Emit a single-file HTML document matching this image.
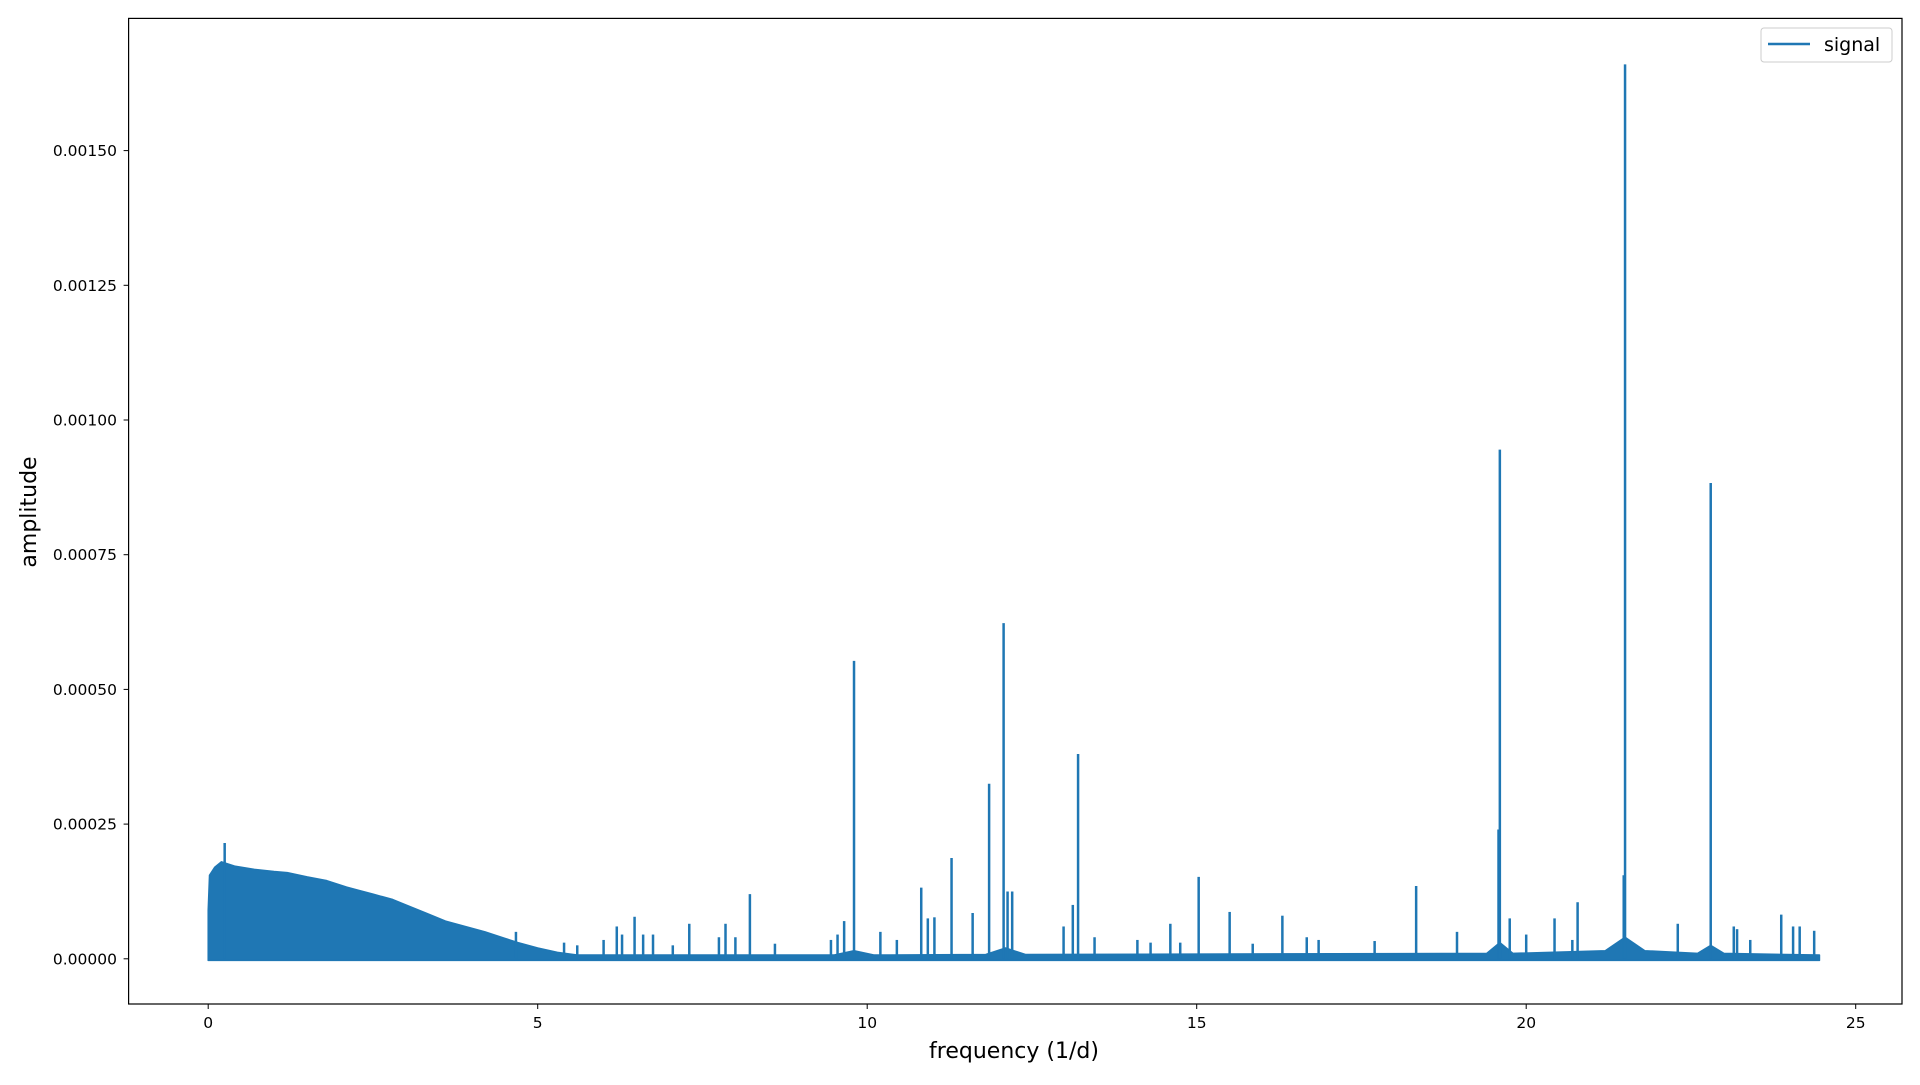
<!DOCTYPE html>
<html><head><meta charset="utf-8"><style>
html,body{margin:0;padding:0;background:#fff;}
svg text{font-family:"DejaVu Sans","Liberation Sans",sans-serif;fill:#000;}
</style></head><body>
<svg width="1920" height="1080" viewBox="0 0 1920 1080">
<g id="plot"></g>
<rect x="128.6" y="18.4" width="1773.4" height="985.6" fill="none" stroke="#000" stroke-width="1.2"/>
<g id="xticks"></g>
<g id="yticks"></g>
<text x="1014" y="1058" font-size="22" text-anchor="middle">frequency (1/d)</text>
<text transform="translate(36,512) rotate(-90)" font-size="22" text-anchor="middle">amplitude</text>
<g>
<rect x="1761" y="28" width="131" height="34" rx="3" fill="#fff" stroke="#ccc" stroke-width="1"/>
<line x1="1768" y1="44" x2="1810" y2="44" stroke="#1f77b4" stroke-width="2.5"/>
<text x="1824" y="51" font-size="19">signal</text>
</g>
</svg>
<script>
const xTicks=[0,5,10,15,20,25];
const yTicks=[0,0.00025,0.0005,0.00075,0.001,0.00125,0.0015];
const yTickLabels=["0.00000","0.00025","0.00050","0.00075","0.00100","0.00125","0.00150"];
const envFreq=[0,0.02,0.1,0.2,0.4,0.7,1.0,1.2,1.5,1.8,2.1,2.5,2.8,3.0,3.3,3.6,3.9,4.2,4.5,4.7,5.0,5.3,5.6,9.5,9.8,10.1,11.8,12.1,12.4,19.4,19.6,19.8,21.2,21.5,21.8,22.6,22.8,23.0,24.45];
const envAmp=[0.00009,0.000155,0.00017,0.00018,0.000172,0.000166,0.000162,0.00016,0.000152,0.000145,0.000133,0.00012,0.00011,0.0001,0.000085,0.00007,0.00006,0.00005,0.000038,0.00003,0.00002,0.000012,0.000007,0.000007,0.000015,0.000007,0.000008,0.00002,0.000008,0.00001,0.00003,0.00001,0.000015,0.00004,0.000015,0.00001,0.000025,0.00001,0.000007];
const peakFreq=[0.25,4.67,5.4,5.6,6.0,6.2,6.28,6.47,6.6,6.75,7.05,7.3,7.75,7.85,8.0,8.22,8.6,9.45,9.55,9.65,9.8,10.2,10.45,10.82,10.92,11.02,11.28,11.6,11.85,12.07,12.13,12.2,12.98,13.12,13.2,13.45,14.1,14.3,14.6,14.75,15.03,15.5,15.85,16.3,16.67,16.85,17.7,18.33,18.95,19.58,19.6,19.75,20.0,20.43,20.7,20.78,21.48,21.5,22.3,22.8,23.15,23.2,23.4,23.87,24.05,24.15,24.37];
const peakAmp=[0.000215,0.00005,0.00003,0.000025,0.000035,0.00006,0.000045,0.000078,0.000045,0.000045,0.000025,0.000065,0.00004,0.000065,0.00004,0.00012,0.000028,0.000035,0.000045,0.00007,0.000553,0.00005,0.000035,0.000132,0.000075,0.000077,0.000187,0.000085,0.000325,0.000623,0.000125,0.000125,0.00006,0.0001,0.00038,0.00004,0.000035,0.00003,0.000065,0.00003,0.000152,0.000087,0.000028,0.00008,0.00004,0.000035,0.000033,0.000135,0.00005,0.00024,0.000945,0.000075,0.000045,0.000075,0.000035,0.000105,0.000155,0.00166,0.000065,0.000883,0.00006,0.000055,0.000035,0.000082,0.00006,0.00006,0.000052];
const X=f=>208.2+f*65.9;
const Y=a=>958.8-a*538800;
const NS="http://www.w3.org/2000/svg";
const plot=document.getElementById('plot');
function mk(t,attrs,parent){const e=document.createElementNS(NS,t);for(const k in attrs)e.setAttribute(k,attrs[k]);parent.appendChild(e);return e;}
let pts=envFreq.map((f,i)=>X(f)+","+Y(envAmp[i])).join(" ");
pts+=" "+X(envFreq[envFreq.length-1])+","+Y(-0.000003)+" "+X(0)+","+Y(-0.000003);
const env=mk('polygon',{points:pts,fill:'#1f77b4',stroke:'#1f77b4','stroke-width':'1.5','stroke-linejoin':'round'},plot);


peakFreq.forEach((f,i)=>{
 const l=mk('line',{x1:X(f),x2:X(f),y1:Y(0),y2:Y(peakAmp[i]),stroke:'#1f77b4','stroke-width':'2.5'},plot);
 
 
});
const xg=document.getElementById('xticks');
xTicks.forEach(t=>{
 const tl=mk('line',{x1:X(t),x2:X(t),y1:1004,y2:1009,stroke:'#000','stroke-width':'1'},xg);
 
 
 const tx=mk('text',{x:X(t),y:1028,'font-size':'15.5','text-anchor':'middle'},xg);
 tx.textContent=t;
 
 
});
const yg=document.getElementById('yticks');
yTicks.forEach((t,i)=>{
 const tl=mk('line',{x1:123.6,x2:128.6,y1:Y(t),y2:Y(t),stroke:'#000','stroke-width':'1'},yg);
 
 
 const tx=mk('text',{x:117,y:Y(t)+5.5,'font-size':'15.5','text-anchor':'end'},yg);
 tx.textContent=yTickLabels[i];
 
 
});
</script>
</body></html>
